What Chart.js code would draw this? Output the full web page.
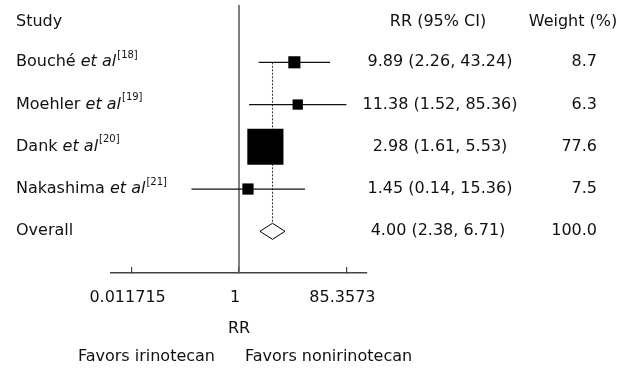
<!DOCTYPE html>
<html>
<head>
<meta charset="utf-8">
<script src="https://cdn.jsdelivr.net/npm/chart.js@4"></script>
<style>
  html, body { margin: 0; padding: 0; background: #fff; }
  #wrap { width: 634px; height: 371px; position: relative; }
</style>
</head>
<body>
<div id="wrap"><canvas id="forest"></canvas></div>
<script>
// study data
const studies = ['Bouché', 'Moehler', 'Dank', 'Nakashima'];
const refs = ['18', '19', '20', '21'];
const rr = [9.89, 11.38, 2.98, 1.45];
const lower = [2.26, 1.52, 1.61, 0.14];
const upper = [43.24, 85.36, 5.53, 15.36];
const weight = [8.7, 6.3, 77.6, 7.5];

// pooled estimate: rr, lower, upper
const overall = [4.00, 2.38, 6.71];
const overallWeight = 100.0;

const tickValues = [0.011715, 1, 85.3573];
const tickLabels = ['0.011715', '1', '85.3573'];

const FONT = 'DejaVu Sans';
const overallRow = studies.length + 1;
const dh = 0.19;       // half height of diamond, in rows
const yMin = -0.356, yMax = 5.987;

const ciSets = studies.map((s, i) => ({
    data: [{x: lower[i], y: i + 1}, {x: upper[i], y: i + 1}],
    showLine: true,
    borderColor: '#111',
    borderWidth: 1.2,
    pointRadius: 0
}));

const datasets = [
    {
        // weighted squares
        data: rr.map((v, i) => ({x: v, y: i + 1})),
        pointStyle: 'rect',
        pointRadius: weight.map(w => 2.9 * Math.sqrt(w)),
        backgroundColor: '#000',
        borderWidth: 0
    },
    ...ciSets,
    {
        // diamond for overall
        data: [
            {x: overall[1], y: overallRow},
            {x: overall[0], y: overallRow - dh},
            {x: overall[2], y: overallRow},
            {x: overall[0], y: overallRow + dh},
            {x: overall[1], y: overallRow}
        ],
        showLine: true,
        borderColor: '#000',
        borderWidth: 1,
        pointRadius: 0,
        fill: false
    },
    {
        // dashed line at overall estimate
        data: [{x: overall[0], y: 1}, {x: overall[0], y: overallRow - dh}],
        showLine: true,
        borderColor: '#333',
        borderWidth: 1,
        borderDash: [2, 1.5],
        pointRadius: 0
    },
    {
        // line of no effect
        data: [{x: 1, y: yMin}, {x: 1, y: yMax}],
        showLine: true,
        borderColor: '#555',
        borderWidth: 1.5,
        pointRadius: 0
    }
];

function drawText(ctx, text, x, y, align, size, style) {
    ctx.font = (style || '') + ' ' + size + 'px "' + FONT + '"';
    ctx.textAlign = align;
    ctx.fillText(text, x, y);
    return ctx.measureText(text).width;
}

const textPlugin = {
    id: 'forestText',
    afterDraw(chart) {
        const ctx = chart.ctx;
        const ys = chart.scales.y;
        ctx.save();
        ctx.fillStyle = '#111';
        ctx.textBaseline = 'middle';

        const y0 = ys.getPixelForValue(0) + 2;
        drawText(ctx, 'Study', 16, y0, 'left', 16);
        drawText(ctx, 'RR (95% CI)', 438, y0, 'center', 16);
        drawText(ctx, 'Weight (%)', 573, y0, 'center', 16);

        studies.forEach((s, i) => {
            const y = ys.getPixelForValue(i + 1);
            let x = 16;
            x += drawText(ctx, s + ' ', x, y, 'left', 16);
            x += drawText(ctx, 'et al', x, y, 'left', 16, 'italic');
            drawText(ctx, '[' + refs[i] + ']', x + 1, y - 7, 'left', 10);
            const txt = rr[i].toFixed(2) + ' (' + lower[i].toFixed(2) + ', ' + upper[i].toFixed(2) + ')';
            drawText(ctx, txt, 440, y, 'center', 16);
            drawText(ctx, weight[i].toFixed(1), 597, y, 'right', 16);
        });

        const yo = ys.getPixelForValue(overallRow);
        drawText(ctx, 'Overall', 16, yo, 'left', 16);
        drawText(ctx, overall[0].toFixed(2) + ' (' + overall[1].toFixed(2) + ', ' + overall[2].toFixed(2) + ')', 438, yo, 'center', 16);
        drawText(ctx, overallWeight.toFixed(1), 597, yo, 'right', 16);

        drawText(ctx, 'Favors irinotecan', 215, 357, 'right', 16);
        drawText(ctx, 'Favors nonirinotecan', 245, 357, 'left', 16);
        ctx.restore();
    }
};

const ctx = document.getElementById('forest').getContext('2d');
const forest = new Chart(ctx, {
    type: 'scatter',
    data: {datasets: datasets},
    options: {
        responsive: true,
        maintainAspectRatio: false,
        animation: false,
        layout: {autoPadding: false, padding: {left: 111, right: 267, top: 5, bottom: 28}},
        plugins: {legend: {display: false}, tooltip: {enabled: false}},
        scales: {
            x: {
                type: 'logarithmic',
                position: 'bottom',
                min: 0.005,
                max: 200,
                afterBuildTicks: s => { s.ticks = tickValues.map(v => ({value: v})); },
                afterFit: s => { s.height = 70; },
                ticks: {
                    callback: (v, i) => tickLabels[i],
                    font: {family: FONT, size: 16},
                    color: '#111',
                    maxRotation: 0,
                    autoSkip: false,
                    labelOffset: -4,
                    padding: 21
                },
                grid: {drawOnChartArea: false, drawTicks: true, tickLength: -6, color: '#444', lineWidth: 1.2},
                border: {color: '#444', width: 1.5},
                title: {
                    display: true,
                    text: 'RR',
                    font: {family: FONT, size: 16},
                    color: '#111',
                    padding: {top: 0, bottom: 5}
                }
            },
            y: {
                type: 'linear',
                min: yMin,
                max: yMax,
                reverse: true,
                display: false
            }
        }
    },
    plugins: [textPlugin]
});
</script>
</body>
</html>
